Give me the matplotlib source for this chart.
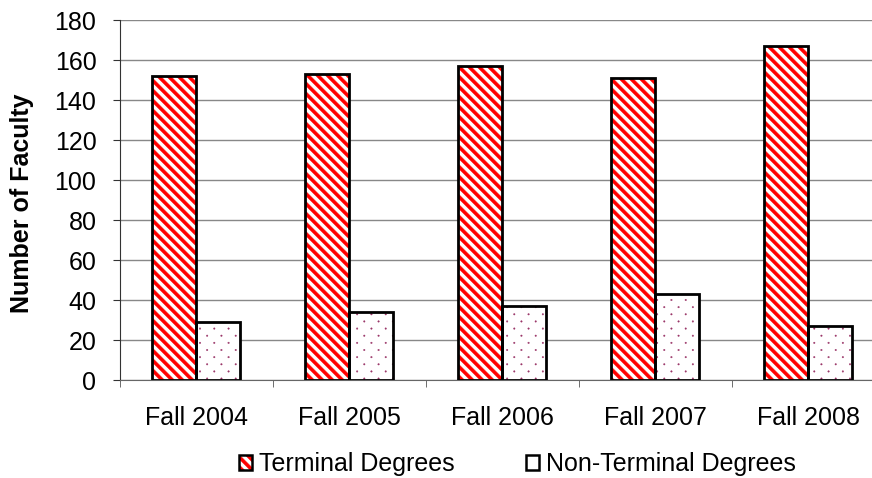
import matplotlib
matplotlib.use('Agg')
import matplotlib.pyplot as plt
import matplotlib.hatch as mhatch
from matplotlib.path import Path
from matplotlib.patches import Patch
from matplotlib.legend_handler import HandlerTuple
import numpy as np

plt.rcParams['font.family'] = ['Liberation Sans', 'DejaVu Sans']
plt.rcParams['hatch.linewidth'] = 0.3

semesters = ['Fall 2004', 'Fall 2005', 'Fall 2006', 'Fall 2007', 'Fall 2008']
terminal = [152, 153, 157, 151, 167]
non_terminal = [29, 34, 37, 43, 27]

BS = chr(92)


# filled diagonal bands for the "\" hatch (thick stripes, like the Excel pattern)
class Bands(mhatch.HatchPatternBase):
    per_inch = 10
    frac = 0.45

    def __init__(self, hatch, density):
        self.n = hatch.count(BS) * self.per_inch
        self.num_vertices = (3 * self.n + 1) * 5 if self.n else 0

    def set_vertices_and_codes(self, vertices, codes):
        w = self.frac / self.n
        i = 0
        for k in range(-self.n, 2 * self.n + 1):
            c = k / self.n
            vertices[i:i + 5] = [(c - 2, 2), (c + 2, -2), (c + w + 2, -2),
                                 (c + w - 2, 2), (c - 2, 2)]
            codes[i:i + 5] = [Path.MOVETO, Path.LINETO, Path.LINETO,
                              Path.LINETO, Path.CLOSEPOLY]
            i += 5


# small staggered dots for the "." hatch
class Dots(mhatch.HatchPatternBase):
    rows_per_inch = 14
    radius = 0.0075

    def __init__(self, hatch, density):
        rows = hatch.count('.') * self.rows_per_inch
        cols = rows // 2
        circ = Path.unit_circle()
        self.cv, self.cc = circ.vertices, circ.codes
        self.pts = []
        for r in range(rows + 1):
            if r % 2 == 0:
                xs = np.arange(cols + 1) / max(cols, 1)
            else:
                xs = (np.arange(cols) + 0.5) / max(cols, 1)
            self.pts += [(xx, r / max(rows, 1)) for xx in xs]
        self.num_vertices = len(self.pts) * len(self.cv) if rows else 0

    def set_vertices_and_codes(self, vertices, codes):
        n = len(self.cv)
        for j, (px, py) in enumerate(self.pts):
            vertices[j * n:(j + 1) * n] = self.cv * self.radius + (px, py)
            codes[j * n:(j + 1) * n] = self.cc


mhatch._hatch_types = [Bands if t is mhatch.SouthEastHatch else
                       Dots if t is mhatch.SmallFilledCircles else t
                       for t in mhatch._hatch_types]

fig = plt.figure(figsize=(8.72, 4.78), dpi=100)
ax = fig.add_axes([120/872, 98/478, 764.5/872, 360/478])

x = np.arange(len(semesters))
w = 0.288

ax.bar(x - w/2, terminal, w, color='white', edgecolor='#ff0000', hatch=BS, linewidth=0, zorder=3)
ax.bar(x - w/2, terminal, w, fill=False, edgecolor='black', linewidth=2.0, zorder=4)
ax.bar(x + w/2, non_terminal, w, color='white', edgecolor='#993366', hatch='.', linewidth=0, zorder=3)
ax.bar(x + w/2, non_terminal, w, fill=False, edgecolor='black', linewidth=2.0, zorder=4)

ax.set_xlim(-0.5, 4.5)
ax.set_ylim(0, 180)
ax.set_yticks(np.arange(0, 181, 20))
ax.set_xticks(x)
ax.set_xticklabels(semesters, fontsize=18)
ax.set_xticks(np.arange(-0.5, 4.6, 1), minor=True)
ax.tick_params(axis='x', which='major', length=0, pad=19)
ax.tick_params(axis='x', which='minor', length=5, direction='out', color='#555555')
ax.tick_params(axis='y', labelsize=18, length=5, direction='out', color='#333333', pad=12)
ax.yaxis.grid(True, color='#888888', linewidth=1)
ax.set_axisbelow(True)
for s in ['top', 'right']:
    ax.spines[s].set_visible(False)
ax.spines['left'].set_color('#333333')
ax.spines['bottom'].set_color('#666666')

ax.set_ylabel('Number of Faculty', fontsize=18, fontweight='bold')
ax.yaxis.set_label_coords(-0.113, 0.49)

# legend keys: red stripe under a black outline, plain box for the second
h_term = (Patch(facecolor='white', edgecolor='#ff0000', hatch=BS, linewidth=0),
          Patch(fill=False, edgecolor='black', linewidth=1.8))
h_non = Patch(facecolor='white', edgecolor='black', linewidth=1.8)
fig.legend([h_term, h_non], ['Terminal Degrees', 'Non-Terminal Degrees'], loc='center',
           bbox_to_anchor=(0.5935, 0.029), ncol=2, frameon=False, fontsize=18,
           handlelength=0.52, handleheight=0.52, handletextpad=0.28, columnspacing=2.84,
           handler_map={tuple: HandlerTuple(ndivide=1, pad=0)})

fig.savefig('out.png', dpi=100)
